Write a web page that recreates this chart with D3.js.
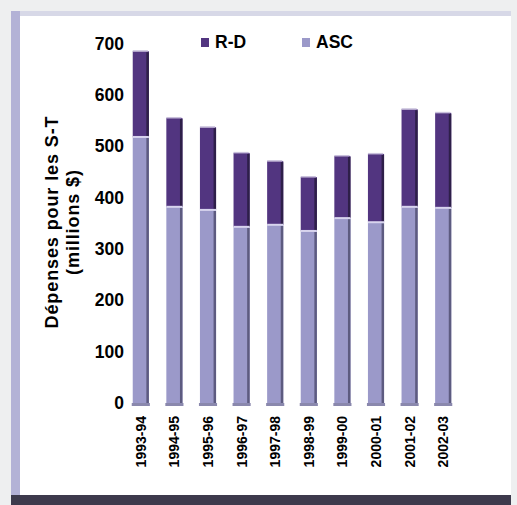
<!DOCTYPE html>
<html>
<head>
<meta charset="utf-8">
<script src="https://cdn.jsdelivr.net/npm/d3@7"></script>
<style>
  body { margin: 0; background: #eeeff0; }
  svg { display: block; font-family: 'Liberation Sans', Arial, sans-serif; font-weight: bold; }
</style>
</head>
<body>
<svg id="chart" width="517" height="505"></svg>
<script>
// fiscal years
const years = ['1993-94', '1994-95', '1995-96', '1996-97', '1997-98', '1998-99', '1999-00', '2000-01', '2001-02', '2002-03']
// ASC (bottom) and R-D (top) spending, millions $
const asc = [518, 382, 376, 343, 347, 335, 360, 352, 382, 380]
const rd = [167, 173, 161, 144, 124, 105, 121, 133, 190, 185]
const yTicks = [0, 100, 200, 300, 400, 500, 600, 700]
const seriesNames = ['R-D', 'ASC']

const colors = { 'R-D': '#523580', 'ASC': '#9b99c9' }
const sideColors = { 'R-D': '#2e1f49', 'ASC': '#5d5b80' }

var svg = d3.select('#chart')

// frame
svg.append('rect').attr('x', 0).attr('y', 0).attr('width', 517).attr('height', 505).attr('fill', '#eeeff0')
svg.append('rect').attr('x', 11).attr('y', 11).attr('width', 500).attr('height', 490).attr('fill', '#ffffff')
svg.append('rect').attr('x', 11).attr('y', 11).attr('width', 500).attr('height', 5).attr('fill', '#d7d8e7')
svg.append('rect').attr('x', 11).attr('y', 11).attr('width', 9).attr('height', 490).attr('fill', '#b3b2d6')
svg.append('rect').attr('x', 11).attr('y', 495).attr('width', 500).attr('height', 10).attr('fill', '#3d3a4c')

var x = d3.scaleBand()
  .domain(years)
  .range([124, 460])
  .paddingInner(0.52)
  .paddingOuter(0.26)

var y = d3.scaleLinear()
  .domain([0, 700])
  .range([403, 43.5])

var stackData = years.map(function(yr, i) { return { year: yr, 'ASC': asc[i], 'R-D': rd[i] } })
var stacked = d3.stack().keys(['ASC', 'R-D'])(stackData)

var bw = x.bandwidth()
var series = svg.selectAll('.series')
  .data(stacked)
  .enter().append('g')
  .attr('class', 'series')

series.selectAll('rect.face')
  .data(function(d) { return d.map(function(p) { return { key: d.key, p: p } }) })
  .enter().append('rect')
  .attr('class', 'face')
  .attr('x', function(d) { return x(d.p.data.year) })
  .attr('y', function(d) { return y(d.p[1]) })
  .attr('width', bw)
  .attr('height', function(d) { return y(d.p[0]) - y(d.p[1]) })
  .attr('fill', function(d) { return colors[d.key] })

// darker right side for the 3D look
series.selectAll('rect.side')
  .data(function(d) { return d.map(function(p) { return { key: d.key, p: p } }) })
  .enter().append('rect')
  .attr('class', 'side')
  .attr('x', function(d) { return x(d.p.data.year) + bw - 2.5 })
  .attr('y', function(d) { return y(d.p[1]) + 1 })
  .attr('width', 2.5)
  .attr('height', function(d) { return y(d.p[0]) - y(d.p[1]) - 1 })
  .attr('fill', function(d) { return sideColors[d.key] })

// light separator between segments and light cap
svg.selectAll('.sep')
  .data(stacked[1])
  .enter().append('rect')
  .attr('x', function(d) { return x(d.data.year) })
  .attr('y', function(d) { return y(d[0]) - 1 })
  .attr('width', bw)
  .attr('height', 2)
  .attr('fill', '#d8d4ee')
svg.selectAll('.cap')
  .data(stacked[1])
  .enter().append('rect')
  .attr('x', function(d) { return x(d.data.year) })
  .attr('y', function(d) { return y(d[1]) - 1 })
  .attr('width', bw - 1)
  .attr('height', 1.5)
  .attr('fill', '#c9c0dc')
svg.selectAll('.base')
  .data(stacked[0])
  .enter().append('rect')
  .attr('x', function(d) { return x(d.data.year) - 1 })
  .attr('y', y(0))
  .attr('width', bw + 2)
  .attr('height', 3)
  .attr('fill', '#8a88ad')

// y axis labels
svg.append('g')
  .attr('transform', 'translate(124,0)')
  .call(d3.axisLeft(y).tickValues(yTicks).tickSize(0).tickPadding(0).tickFormat(d3.format('d')))
  .call(function(g) { g.select('.domain').remove() })
  .selectAll('text')
  .attr('font-size', 17.5)
  .attr('font-family', "'Liberation Sans', Arial, sans-serif")
  .attr('font-weight', 'bold')
  .attr('fill', '#000')

// x axis labels
svg.append('g')
  .attr('transform', 'translate(0,416)')
  .call(d3.axisBottom(x).tickSize(0).tickPadding(0))
  .call(function(g) { g.select('.domain').remove() })
  .selectAll('text')
  .attr('font-size', 14)
  .attr('font-family', "'Liberation Sans', Arial, sans-serif")
  .attr('font-weight', 'bold')
  .attr('fill', '#000')
  .style('text-anchor', 'end')
  .attr('dx', 0)
  .attr('dy', '0.35em')
  .attr('y', 0)
  .attr('transform', 'rotate(-90)')

// y axis title
var title = svg.append('text')
  .attr('transform', 'translate(58,222) rotate(-90)')
  .attr('text-anchor', 'middle')
  .attr('font-size', 18)
  .attr('letter-spacing', 0.9)
  .attr('fill', '#000')
title.append('tspan').attr('x', 0).attr('dy', 0).text('Dépenses pour les S-T')
title.append('tspan').attr('x', 0).attr('dy', 21).text('(millions $)')

// legend
var legend = svg.selectAll('.legend')
  .data(seriesNames)
  .enter().append('g')
  .attr('transform', function(d, i) { return 'translate(' + (201 + i * 101) + ',38)' })
legend.append('rect')
  .attr('width', 8).attr('height', 9)
  .attr('fill', function(d) { return colors[d] })
legend.append('text')
  .attr('x', 14).attr('y', 10)
  .attr('font-size', 17.5)
  .attr('fill', '#000')
  .text(function(d) { return d })
</script>
</body>
</html>
